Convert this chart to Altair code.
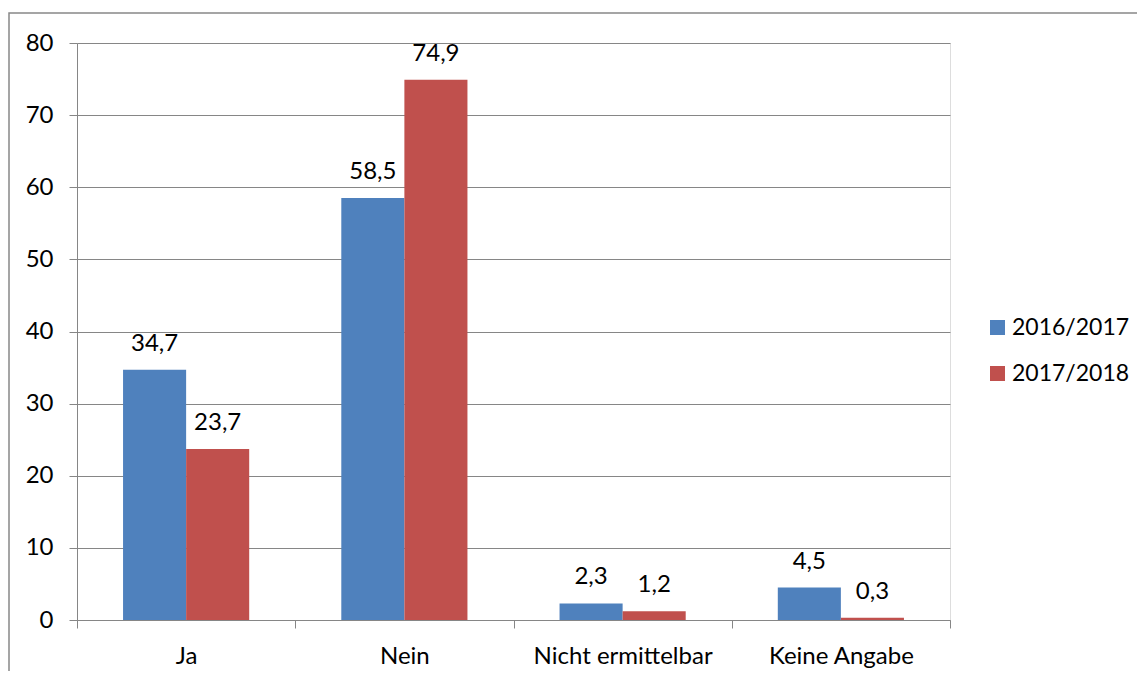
import altair as alt
import pandas as pd

categories = ["Ja", "Nein", "Nicht ermittelbar", "Keine Angabe"]
series = ["2016/2017", "2017/2018"]
values_2016 = [34.7, 58.5, 2.3, 4.5]
values_2017 = [23.7, 74.9, 1.2, 0.3]
colors = ["#4F81BD", "#C0504D"]

rows = []
for c, a, b in zip(categories, values_2016, values_2017):
    rows.append({"cat": c, "series": series[0], "v": a})
    rows.append({"cat": c, "series": series[1], "v": b})
df = pd.DataFrame(rows)

FONT = "Lato"
FS = 24
W, H = 873, 577

x = alt.X("cat:N", sort=categories, title=None,
          scale=alt.Scale(paddingInner=0, paddingOuter=0),
          axis=alt.Axis(tickBand="extent", labelAngle=0, labelFont=FONT, labelFontSize=FS,
                        labelColor="black", tickColor="#868686", tickSize=8,
                        domainColor="#868686", labelPadding=16, grid=False))
xo = alt.XOffset("series:N", sort=series, scale=alt.Scale(paddingOuter=0.73, paddingInner=0))
y = alt.Y("v:Q", title=None,
          scale=alt.Scale(domain=[0, 80], nice=False),
          axis=alt.Axis(values=list(range(0, 81, 10)), labelFont=FONT, labelFontSize=FS,
                        labelColor="black", tickColor="#868686", tickSize=8,
                        domainColor="#868686", gridColor="#868686", labelPadding=16,
                        grid=True))

base = alt.Chart(df)

bars = base.mark_bar().encode(
    x=x, xOffset=xo, y=y,
    color=alt.Color("series:N", sort=series, title=None,
                    scale=alt.Scale(domain=series, range=colors),
                    legend=alt.Legend(orient="none", legendX=909, legendY=273,
                                      symbolType="square", symbolSize=225,
                                      symbolStrokeWidth=0, labelFont=FONT,
                                      labelFontSize=23, labelColor="black",
                                      rowPadding=22, labelOffset=3)),
)

labels = base.transform_calculate(
    label="replace(format(datum.v, '.1f'), '.', ',')"
).mark_text(font=FONT, fontSize=FS, color="black", baseline="bottom", dy=-14).encode(
    x=x, xOffset=xo, y=y, text="label:N"
)

border = alt.Chart(pd.DataFrame({"a": [0]})).mark_rect(
    fill=None, stroke="#888888", strokeWidth=1.5, clip=False
).encode(x=alt.value(-68), x2=alt.value(2000), y=alt.value(-30), y2=alt.value(1000))

chart = alt.layer(border, bars, labels).properties(
    width=W, height=H,
    autosize=alt.AutoSizeParams(type="none"),
    padding={"left": 69, "top": 35, "right": 187, "bottom": 51},
).configure_view(stroke=None).configure(background="white")

chart.save("out.html", embed_options={"renderer": "svg", "actions": False})
